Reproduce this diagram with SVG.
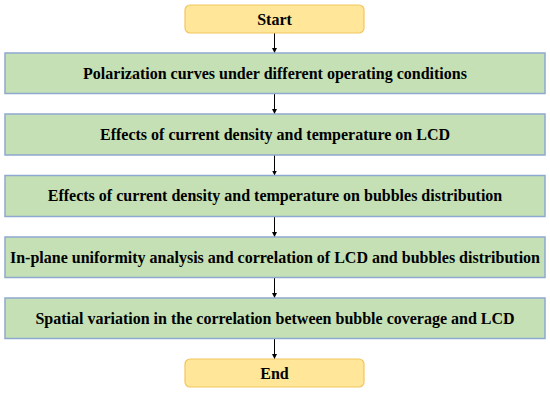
<svg xmlns="http://www.w3.org/2000/svg" width="550" height="393" viewBox="0 0 550 393">
<defs>
<marker id="ah" viewBox="0 0 10 10" refX="10" refY="5" markerWidth="5" markerHeight="5" orient="auto" markerUnits="userSpaceOnUse">
<path d="M0,0 L10,5 L0,10 z" fill="#000"/>
</marker>
<style>
.term{fill:#ffe699;stroke:#f2c65f;stroke-width:1.2}
.step{fill:#c5e0b4;stroke:#8ea9cf;stroke-width:1.5}
.lbl{font-weight:bold;font-size:16px;fill:#000;text-anchor:middle}
.conn{stroke:#000;stroke-width:1;fill:none;marker-end:url(#ah)}
</style>
</defs>
<rect width="550" height="393" fill="#fff"/>
<g id="connectors">
<line class="conn" x1="274.5" y1="33" x2="274.5" y2="53"/>
<line class="conn" x1="274.5" y1="93.5" x2="274.5" y2="114"/>
<line class="conn" x1="274.5" y1="155" x2="274.5" y2="175.5"/>
<line class="conn" x1="274.5" y1="216.5" x2="274.5" y2="237"/>
<line class="conn" x1="274.5" y1="277.5" x2="274.5" y2="298"/>
<line class="conn" x1="274.5" y1="338.5" x2="274.5" y2="359"/>
</g>
<g font-family="'Liberation Serif', 'Times New Roman', Times, serif">
<g id="start">
<rect class="term" x="185" y="5" width="179" height="28" rx="5"/>
<text class="lbl" x="274.5" y="25">Start</text>
</g>
<g id="step1">
<rect class="step" x="5" y="53" width="540" height="40.5"/>
<text class="lbl" x="275" y="78.5">Polarization curves under different operating conditions</text>
</g>
<g id="step2">
<rect class="step" x="5" y="114" width="540" height="41"/>
<text class="lbl" x="275" y="139.5">Effects of current density and temperature on LCD</text>
</g>
<g id="step3">
<rect class="step" x="5" y="175.5" width="540" height="41"/>
<text class="lbl" x="275" y="201">Effects of current density and temperature on bubbles distribution</text>
</g>
<g id="step4">
<rect class="step" x="5" y="237" width="540" height="40.5"/>
<text class="lbl" x="275" y="262.5">In-plane uniformity analysis and correlation of LCD and bubbles distribution</text>
</g>
<g id="step5">
<rect class="step" x="5" y="298" width="540" height="40.5"/>
<text class="lbl" x="275" y="323.5">Spatial variation in the correlation between bubble coverage and LCD</text>
</g>
<g id="end">
<rect class="term" x="185" y="359" width="179" height="28" rx="5"/>
<text class="lbl" x="274.5" y="378.5">End</text>
</g>
</g>
</svg>
